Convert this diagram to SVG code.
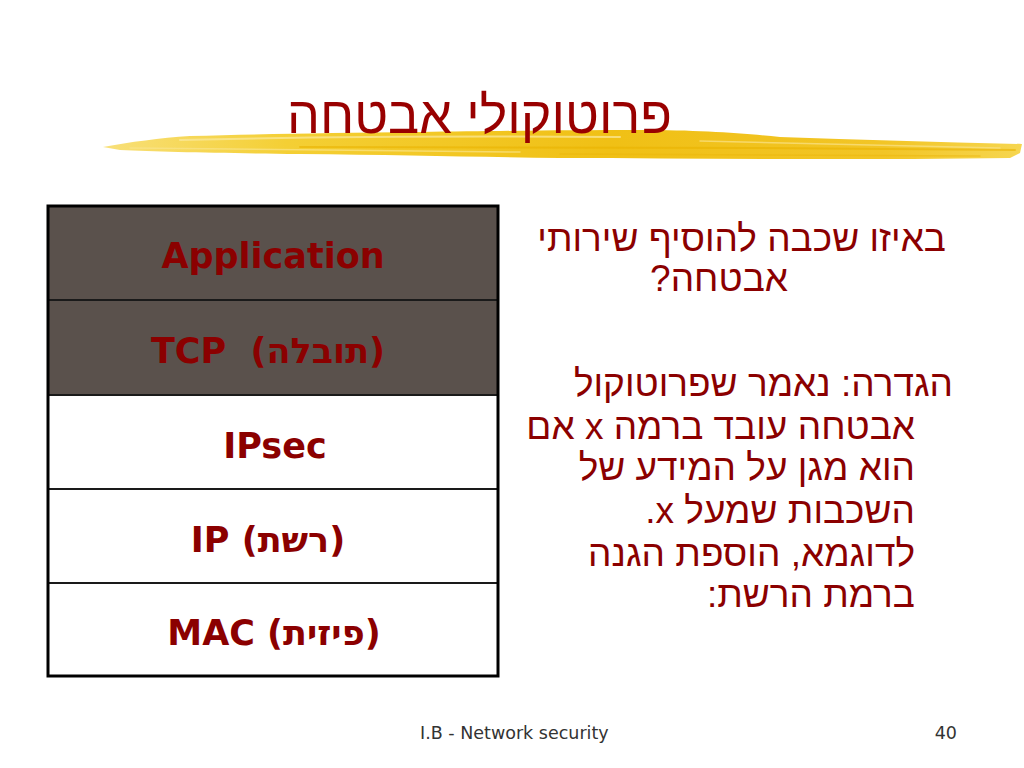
<svg xmlns="http://www.w3.org/2000/svg" width="1024" height="768" viewBox="0 0 1024 768">
<style>
.cell-dark{fill:#5a514c;}
.cell-light{fill:#ffffff;}
.sep{stroke:#1a1a1a;stroke-width:2;}
.lbl{font-family:"DejaVu Sans",Verdana,sans-serif;font-weight:bold;font-size:35px;fill:#8b0000;text-anchor:middle;}
.he{font-family:"Liberation Sans",Arial,sans-serif;font-size:37px;fill:#8b0000;direction:rtl;text-anchor:start;}
.foot{font-family:"DejaVu Sans",Verdana,sans-serif;font-size:17.5px;fill:#333333;}
.streak{fill:none;stroke-linecap:round;}
</style>
<defs>
<linearGradient id="brush" x1="0" y1="0" x2="1" y2="0">
<stop offset="0" stop-color="#f8e07a"/>
<stop offset="0.2" stop-color="#f4cf34"/>
<stop offset="0.55" stop-color="#f0c015"/>
<stop offset="0.85" stop-color="#f2c526"/>
<stop offset="1" stop-color="#f6d650"/>
</linearGradient>
</defs>
<rect width="1024" height="768" fill="#ffffff"/>
<g id="title">
<path d="M103,147 C130,142 160,138 190,136 C260,134 330,133 420,132 C500,131 560,130 640,130 C700,130 740,133 780,137 C860,140 940,142 1022,144 L1020,153 L1010,158 C950,159 880,159 800,159 C720,159 640,158 560,158 C480,157 400,155 300,154 C220,153 160,152 120,150 Z" fill="url(#brush)"/>
<path d="M180,140 C300,137 460,136 620,137" class="streak" stroke="#fbe9a0" stroke-width="2" opacity="0.7"/>
<path d="M300,147 C450,146 600,148 760,148 C860,148 940,149 1015,150" class="streak" stroke="#e9b300" stroke-width="2" opacity="0.6"/>
<path d="M700,141 C800,143 900,145 1000,148" class="streak" stroke="#f9e38a" stroke-width="1.5" opacity="0.7"/>
<path d="M130,148 C250,149 380,151 520,152" class="streak" stroke="#f9e48c" stroke-width="1.5" opacity="0.7"/>
<path d="M560,154 C680,155 820,155 980,156" class="streak" stroke="#ebb60a" stroke-width="1.5" opacity="0.5"/>
<text x="672" y="133" style="font-family:'Liberation Sans',Arial,sans-serif;font-size:52px;fill:#990000;direction:rtl;text-anchor:start;">פרוטוקולי אבטחה</text>
</g>
<g id="table">
<g id="row-application">
<rect x="48" y="206" width="450" height="94" class="cell-dark"/>
<text x="273" y="268" class="lbl">Application</text>
</g>
<g id="row-tcp">
<rect x="48" y="300" width="450" height="95" class="cell-dark"/>
<text x="268" y="363" class="lbl">TCP&#160; (תובלה)</text>
</g>
<g id="row-ipsec">
<rect x="48" y="395" width="450" height="94" class="cell-light"/>
<text x="275" y="458" class="lbl">IPsec</text>
</g>
<g id="row-ip">
<rect x="48" y="489" width="450" height="94" class="cell-light"/>
<text x="268" y="552" class="lbl">IP (רשת)</text>
</g>
<g id="row-mac">
<rect x="48" y="583" width="450" height="93" class="cell-light"/>
<text x="274" y="645" class="lbl">MAC (פיזית)</text>
</g>
<g id="separators">
<line x1="48" y1="300" x2="498" y2="300" class="sep"/>
<line x1="48" y1="395" x2="498" y2="395" class="sep"/>
<line x1="48" y1="489" x2="498" y2="489" class="sep"/>
<line x1="48" y1="583" x2="498" y2="583" class="sep"/>
</g>
<rect x="48" y="206" width="450" height="470" fill="none" stroke="#000000" stroke-width="3"/>
</g>
<g id="text-right">
<text x="946" y="251" class="he">באיזו שכבה להוסיף שירותי</text>
<text x="788" y="291" class="he">אבטחה?</text>
<text x="953" y="396" class="he">הגדרה: נאמר שפרוטוקול</text>
<text x="915" y="439" class="he">אבטחה עובד ברמה x אם</text>
<text x="915" y="480" class="he">הוא מגן על המידע של</text>
<text x="915" y="523" class="he">השכבות שמעל x.</text>
<text x="915" y="566" class="he">לדוגמא, הוספת הגנה</text>
<text x="915" y="607" class="he">ברמת הרשת:</text>
</g>
<g id="footer">
<text x="420" y="739" class="foot">I.B - Network security</text>
<text x="957" y="739" class="foot" text-anchor="end">40</text>
</g>
</svg>
